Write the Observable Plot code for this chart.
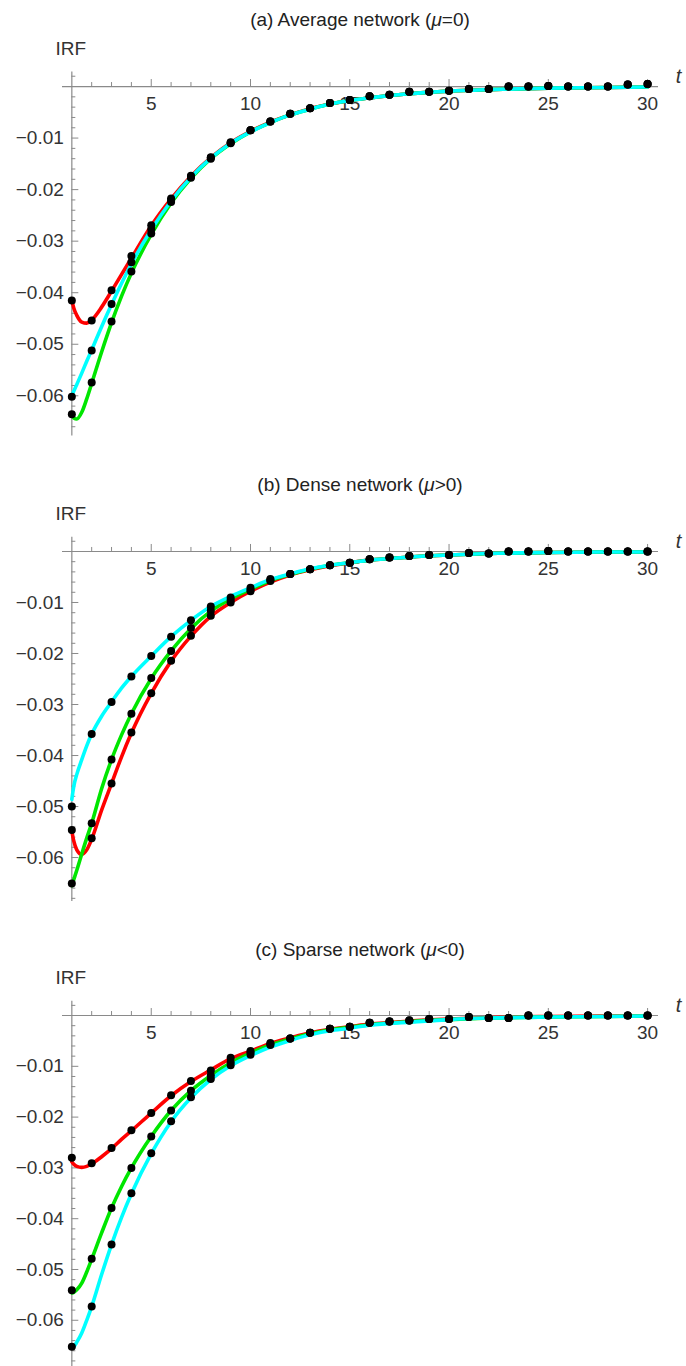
<!DOCTYPE html>
<html><head><meta charset="utf-8">
<script src="https://cdn.jsdelivr.net/npm/d3@7"></script>
<script src="https://cdn.jsdelivr.net/npm/@observablehq/plot@0.6"></script>
<style>
body{margin:0;background:#fff;font-family:"Liberation Sans",Arial,sans-serif;}
.title{height:30px;box-sizing:border-box;padding-top:12px;line-height:16px;font-size:19px;color:#222;text-align:center;padding-left:34px;white-space:nowrap;}
svg{display:block;}
</style></head><body><div id="chart"></div>
<script>
// ---- shared axes / ticks ----
const tDots = [1,2,3,4,5,6,7,8,9,10,11,12,13,14,15,16,17,18,19,20,21,22,23,24,25,26,27,28,29,30];
const tCurve = [1,1.1,1.25,1.5,1.75,2,2.5,3,3.5,4,5,6,7,8,9,10,11,12,13,14,15,16,18,20,22,25,28,30];
const xMajor = [5,10,15,20,25,30];
const xMinor = [2,3,4,6,7,8,9,11,12,13,14,16,17,18,19,21,22,23,24,26,27,28,29];
const yMajor = [-0.01,-0.02,-0.03,-0.04,-0.05,-0.06];
const yMinor = [0.002,-0.002,-0.004,-0.006,-0.008,-0.012,-0.014,-0.016,-0.018,-0.022,-0.024,-0.026,-0.028,
  -0.032,-0.034,-0.036,-0.038,-0.042,-0.044,-0.046,-0.048,-0.052,-0.054,-0.056,-0.058,-0.062,-0.064,-0.066,-0.068];
const seriesNames = ["S1","S2","S3"];
const seriesColors = ["#ff0000","#00e600","#00ffff"];
const titles = ["(a) Average network (<i>μ</i>=0)","(b) Dense network (<i>μ</i>&gt;0)","(c) Sparse network (<i>μ</i>&lt;0)"];

// ---- panel (a) ----
const aRedDots   = [-0.0415,-0.0454,-0.0395,-0.0329,-0.0269,-0.0217,-0.0173,-0.0137,-0.0108,-0.0085,-0.0068,-0.0053,-0.0042,-0.0032,-0.0026,-0.0019,-0.0016,-0.0010,-0.0010,-0.0008,-0.0005,-0.0005,0,0,0.0001,0,0,0,0.0004,0.0005];
const aGreenDots = [-0.0636,-0.0574,-0.0456,-0.0359,-0.0285,-0.0224,-0.0177,-0.0140,-0.0110,-0.0085,-0.0068,-0.0053,-0.0042,-0.0032,-0.0026,-0.0019,-0.0016,-0.0010,-0.0010,-0.0008,-0.0005,-0.0005,0,0,0.0001,0,0,0,0.0004,0.0005];
const aCyanDots  = [-0.0602,-0.0512,-0.0422,-0.0341,-0.0277,-0.0220,-0.0175,-0.0138,-0.0109,-0.0085,-0.0068,-0.0053,-0.0042,-0.0032,-0.0026,-0.0019,-0.0016,-0.0010,-0.0010,-0.0008,-0.0005,-0.0005,0,0,0.0001,0,0,0,0.0004,0.0005];
const aRedCurve   = [-0.0415,-0.0430,-0.0444,-0.0457,-0.0459,-0.0453,-0.0428,-0.0397,-0.0365,-0.0333,-0.0270,-0.0218,-0.0174,-0.0138,-0.0109,-0.0087,-0.0069,-0.0055,-0.0043,-0.0034,-0.0027,-0.0022,-0.0014,-0.0009,-0.0006,-0.0003,-0.0002,-0.0001];
const aGreenCurve = [-0.0636,-0.0643,-0.0645,-0.0632,-0.0606,-0.0576,-0.0515,-0.0458,-0.0407,-0.0362,-0.0287,-0.0226,-0.0178,-0.0140,-0.0111,-0.0088,-0.0070,-0.0055,-0.0044,-0.0034,-0.0027,-0.0022,-0.0014,-0.0009,-0.0006,-0.0003,-0.0002,-0.0001];
const aCyanCurve  = [-0.0600,-0.0591,-0.0578,-0.0556,-0.0533,-0.0511,-0.0466,-0.0423,-0.0382,-0.0344,-0.0278,-0.0222,-0.0176,-0.0139,-0.0110,-0.0088,-0.0070,-0.0055,-0.0044,-0.0034,-0.0027,-0.0022,-0.0014,-0.0009,-0.0006,-0.0003,-0.0002,-0.0001];

// ---- panel (b) ----
const bRedDots   = [-0.0546,-0.0562,-0.0455,-0.0355,-0.0278,-0.0214,-0.0165,-0.0126,-0.0100,-0.0078,-0.0058,-0.0044,-0.0035,-0.0027,-0.0022,-0.0015,-0.0012,-0.0009,-0.0007,-0.0007,-0.0003,-0.0004,0,0,0.0001,0,0,0,0,0];
const bGreenDots = [-0.0651,-0.0533,-0.0408,-0.0318,-0.0248,-0.0195,-0.0150,-0.0116,-0.0095,-0.0075,-0.0056,-0.0044,-0.0035,-0.0027,-0.0022,-0.0015,-0.0012,-0.0009,-0.0007,-0.0007,-0.0003,-0.0004,0,0,0.0001,0,0,0,0,0];
const bCyanDots  = [-0.0500,-0.0358,-0.0295,-0.0245,-0.0205,-0.0167,-0.0135,-0.0108,-0.0090,-0.0071,-0.0054,-0.0044,-0.0035,-0.0027,-0.0022,-0.0015,-0.0012,-0.0009,-0.0007,-0.0007,-0.0003,-0.0004,0,0,0.0001,0,0,0,0,0];
const bRedCurve   = [-0.0548,-0.0568,-0.0585,-0.0594,-0.0585,-0.0564,-0.0507,-0.0455,-0.0403,-0.0356,-0.0278,-0.0215,-0.0166,-0.0127,-0.0100,-0.0078,-0.0060,-0.0046,-0.0036,-0.0028,-0.0022,-0.0017,-0.0011,-0.0007,-0.0004,-0.0002,-0.0001,-0.0001];
const bGreenCurve = [-0.0655,-0.0643,-0.0625,-0.0593,-0.0562,-0.0533,-0.0465,-0.0408,-0.0360,-0.0318,-0.0249,-0.0195,-0.0151,-0.0117,-0.0093,-0.0074,-0.0057,-0.0045,-0.0035,-0.0027,-0.0022,-0.0017,-0.0011,-0.0007,-0.0004,-0.0002,-0.0001,-0.0001];
const bCyanCurve  = [-0.0486,-0.0460,-0.0437,-0.0408,-0.0381,-0.0358,-0.0323,-0.0295,-0.0268,-0.0245,-0.0205,-0.0167,-0.0135,-0.0108,-0.0088,-0.0071,-0.0055,-0.0044,-0.0034,-0.0027,-0.0022,-0.0017,-0.0011,-0.0007,-0.0004,-0.0002,-0.0001,-0.0001];

// ---- panel (c) ----
const cRedDots   = [-0.0280,-0.0291,-0.0261,-0.0226,-0.0192,-0.0157,-0.0129,-0.0108,-0.0083,-0.0070,-0.0054,-0.0045,-0.0034,-0.0026,-0.0022,-0.0014,-0.0012,-0.0010,-0.0007,-0.0007,-0.0003,-0.0005,-0.0005,0,0,0,0,0,0,0];
const cGreenDots = [-0.0541,-0.0479,-0.0379,-0.0300,-0.0238,-0.0187,-0.0148,-0.0118,-0.0092,-0.0073,-0.0056,-0.0045,-0.0034,-0.0026,-0.0022,-0.0014,-0.0012,-0.0010,-0.0007,-0.0007,-0.0003,-0.0005,-0.0005,0,0,0,0,0,0,0];
const cCyanDots  = [-0.0652,-0.0573,-0.0451,-0.0350,-0.0271,-0.0208,-0.0161,-0.0125,-0.0098,-0.0077,-0.0058,-0.0045,-0.0034,-0.0026,-0.0022,-0.0014,-0.0012,-0.0010,-0.0007,-0.0007,-0.0003,-0.0005,-0.0005,0,0,0,0,0,0,0];
const cRedCurve   = [-0.0288,-0.0293,-0.0297,-0.0299,-0.0297,-0.0292,-0.0278,-0.0262,-0.0244,-0.0227,-0.0192,-0.0158,-0.0130,-0.0107,-0.0085,-0.0070,-0.0055,-0.0044,-0.0034,-0.0027,-0.0022,-0.0017,-0.0011,-0.0007,-0.0004,-0.0002,-0.0001,-0.0001];
const cGreenCurve = [-0.0546,-0.0545,-0.0540,-0.0527,-0.0505,-0.0480,-0.0428,-0.0379,-0.0337,-0.0300,-0.0238,-0.0187,-0.0148,-0.0118,-0.0093,-0.0074,-0.0058,-0.0046,-0.0036,-0.0028,-0.0023,-0.0018,-0.0012,-0.0008,-0.0005,-0.0003,-0.0002,-0.0001];
const cCyanCurve  = [-0.0655,-0.0652,-0.0643,-0.0625,-0.0600,-0.0573,-0.0510,-0.0451,-0.0398,-0.0351,-0.0272,-0.0209,-0.0162,-0.0126,-0.0099,-0.0079,-0.0062,-0.0049,-0.0038,-0.0030,-0.0025,-0.0019,-0.0013,-0.0008,-0.0005,-0.0003,-0.0002,-0.0001];

const xDomain = [0.53, 30.55];
const panels = [
  {dots:[aRedDots,aGreenDots,aCyanDots], curves:[aRedCurve,aGreenCurve,aCyanCurve], yDomain:[-0.0678,0.0028], height:435, mt:41.6, mb:29.5},
  {dots:[bRedDots,bGreenDots,bCyanDots], curves:[bRedCurve,bGreenCurve,bCyanCurve], yDomain:[-0.0686,0.0028], height:435, mt:41.7, mb:29.1},
  {dots:[cRedDots,cGreenDots,cCyanDots], curves:[cRedCurve,cGreenCurve,cCyanCurve], yDomain:[-0.0691,0.0028], height:406, mt:40.8, mb:0}
];

const axisColor = "#8a8a8a";
const textColor = "#333";
const root = document.getElementById("chart");

panels.forEach((p, k) => {
  const title = document.createElement("div");
  title.className = "title";
  title.innerHTML = titles[k];
  root.appendChild(title);

  const curveRows = [];
  const dotRows = [];
  seriesNames.forEach((s, i) => {
    tCurve.forEach((t, j) => curveRows.push({series: s, t, v: p.curves[i][j]}));
    tDots.forEach((t, j) => dotRows.push({series: s, t, v: p.dots[i][j]}));
  });
  const inY = d => d >= p.yDomain[0] && d <= p.yDomain[1];

  const svg = Plot.plot({
    width: 686,
    height: p.height,
    marginLeft: 62,
    marginRight: 28,
    marginTop: p.mt,
    marginBottom: p.mb,
    style: {fontFamily: '"Liberation Sans", Arial, sans-serif', background: "#fff", overflow: "visible"},
    x: {domain: xDomain, axis: null},
    y: {domain: p.yDomain, axis: null},
    color: {type: "ordinal", domain: seriesNames, range: seriesColors},
    marks: [
      Plot.ruleY([0], {stroke: axisColor, strokeWidth: 1.2}),
      Plot.ruleX([1], {stroke: axisColor, strokeWidth: 1.2}),
      Plot.ruleX(xMinor, {x: d => d, y1: 0, y2: 0, insetBottom: 4, stroke: axisColor}),
      Plot.ruleX(xMajor, {x: d => d, y1: 0, y2: 0, insetBottom: 7, stroke: axisColor}),
      Plot.ruleY(yMinor.filter(inY), {y: d => d, x1: 1, x2: 1, insetRight: -4, stroke: axisColor}),
      Plot.ruleY(yMajor.filter(inY), {y: d => d, x1: 1, x2: 1, insetRight: -7, stroke: axisColor}),
      Plot.text(xMajor, {x: d => d, y: 0, dy: 17, text: d => String(d), fontSize: 19, fill: textColor}),
      Plot.text(yMajor, {x: 1, y: d => d, dx: -8, textAnchor: "end", text: d => d3.format(".2f")(d), fontSize: 19, fill: textColor}),
      Plot.text(["IRF"], {frameAnchor: "top-left", dx: -7, dy: -31, textAnchor: "start", text: d => d, fontSize: 19, fill: textColor}),
      Plot.text(["t"], {x: xDomain[1], y: 0, dx: 20, dy: -10, text: d => d, fontSize: 20, fontStyle: "italic", fill: textColor}),
      Plot.line(curveRows, {x: "t", y: "v", z: "series", stroke: "series", strokeWidth: 3.6, curve: "monotone-x"}),
      Plot.dot(dotRows, {x: "t", y: "v", r: 4, fill: "black"})
    ]
  });
  root.appendChild(svg);
});
</script>
</body></html>
